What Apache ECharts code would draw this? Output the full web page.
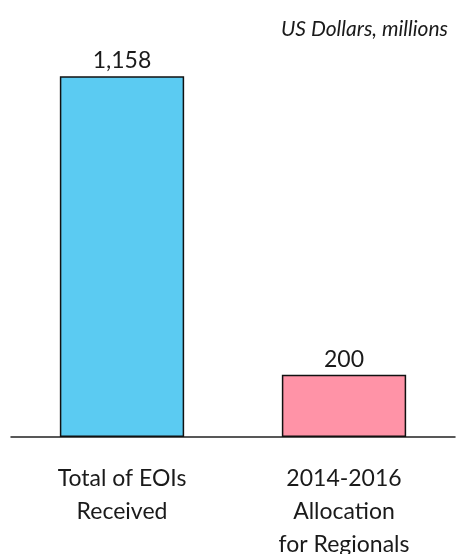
<!DOCTYPE html>
<html><head><meta charset="utf-8">
<script src="https://cdn.jsdelivr.net/npm/echarts@6/dist/echarts.min.js"></script>
<style>html,body{margin:0;padding:0;background:#fff}#c{width:457px;height:554px}</style>
</head><body><div id="c"></div>
<script>
const categories = ["Total of EOIs\nReceived", "2014-2016\nAllocation\nfor Regionals"];
const values = [1158, 200];
const colors = ["#5BCBF2", "#FF93A7"];
const unitLabel = "US Dollars, millions";

const chart = echarts.init(document.getElementById('c'), null, {renderer: 'canvas'});
chart.setOption({
  animation: false,
  title: {
    text: unitLabel, right: 4, top: 14,
    textStyle: {fontFamily: 'Lato', fontStyle: 'italic', fontWeight: 'normal', fontSize: 21, color: '#1a1a1a'}
  },
  grid: {left: 11, right: 2, top: 32, bottom: 117, containLabel: false, outerBoundsMode: 'none'},
  xAxis: {
    type: 'category', data: categories,
    axisLine: {lineStyle: {color: '#222', width: 1.5}},
    axisTick: {show: false},
    axisLabel: {fontFamily: 'Lato', fontSize: 23, color: '#1a1a1a', lineHeight: 33, margin: 25}
  },
  yAxis: {type: 'value', min: 0, max: 1300, show: false, splitLine: {show: false}},
  series: [{
    type: 'bar', barWidth: '56%',
    data: values.map((v, i) => ({value: v, itemStyle: {color: colors[i]}})),
    itemStyle: {borderColor: '#111', borderWidth: 1.5},
    label: {
      show: true, position: 'top', distance: 4,
      fontFamily: 'Lato', fontSize: 23, color: '#1a1a1a',
      formatter: p => p.value.toLocaleString('en-US')
    }
  }]
});
</script></body></html>
